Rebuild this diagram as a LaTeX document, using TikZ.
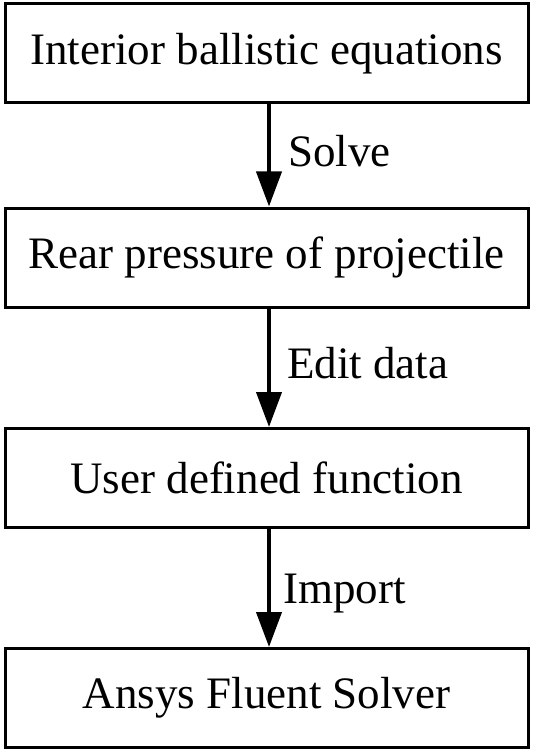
\documentclass[tikz,border=0pt]{standalone}
\usepackage{fontspec}
\setmainfont{Liberation Serif}
\usetikzlibrary{arrows.meta}
\begin{document}
\begin{tikzpicture}[x=1pt,y=-1pt,
  stepbox/.style={draw,line width=3pt,minimum width=523pt,minimum height=99pt,inner sep=0pt,font=\fontsize{45}{50}\selectfont},
  flow/.style={line width=4pt,-{Triangle[width=25pt,length=35pt]}},
  lbl/.style={anchor=base west,inner sep=0pt,font=\fontsize{45}{50}\selectfont}]
\useasboundingbox (0,0) rectangle (535,754);
\node[stepbox] (b1) at (266.5,53.5) {Interior ballistic equations};
\node[stepbox] (b2) at (266.5,257.5) {Rear pressure of projectile};
\node[stepbox] (b3) at (266.5,478) {User defined function};
\node[stepbox] (b4) at (266.5,698) {Ansys Fluent Solver};
\coordinate (ax) at (269,0);
\draw[flow] (b1.south -| ax) -- (b2.north -| ax);
\draw[flow] (b2.south -| ax) -- (b3.north -| ax);
\draw[flow] (b3.south -| ax) -- (b4.north -| ax);
\node[lbl] (l1) at (288,167) {Solve};
\node[lbl] (l2) at (287,378) {Edit data};
\node[lbl] (l3) at (283,603) {Import};
\end{tikzpicture}
\end{document}
